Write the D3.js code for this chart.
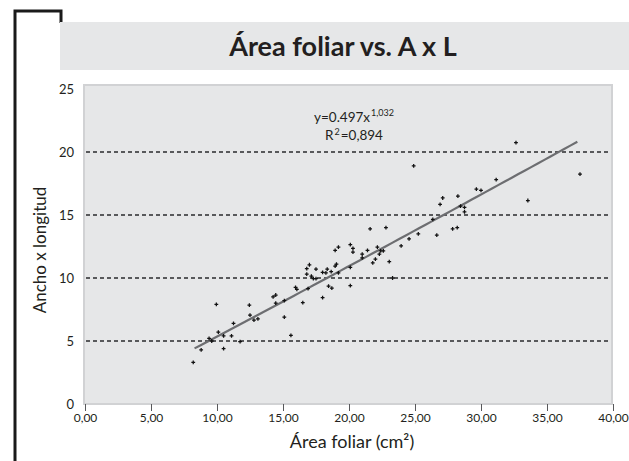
<!DOCTYPE html>
<html><head><meta charset="utf-8">
<script src="https://cdn.jsdelivr.net/npm/d3@7"></script>
<style>body{margin:0;background:#fff}svg{display:block}</style>
</head><body>
<svg id="c" width="629" height="461"></svg>
<script>
const chartTitle = "Área foliar vs. A x L";
const xTitle = "Área foliar (cm²)";
const yTitle = "Ancho x longitud";
const xTicks = [0,5,10,15,20,25,30,35,40];
const yTicks = [0,5,10,15,20,25];
const gridValues = [5,10,15,20];
const areaFoliar = [8.2,8.8,9.4,9.6,9.95,10.1,10.5,10.5,11.1,11.25,11.75,12.45,12.5,12.8,13.1,14.25,14.45,14.45,15.1,15.1,15.6,15.95,16.05,16.5,16.8,16.8,16.9,17.0,17.15,17.3,17.5,17.5,18.0,18.0,18.25,18.35,18.45,18.7,18.65,18.95,19.05,18.95,19.2,19.2,20.1,20.1,20.3,20.3,20.1,21.0,21.0,21.4,21.6,21.8,22.0,22.15,22.3,22.4,22.6,22.8,23.05,23.3,23.95,24.55,24.9,25.25,26.35,26.65,26.9,27.1,27.85,28.2,28.25,28.45,28.75,28.75,29.65,30.0,31.15,32.65,33.55,37.5];
const anchoLongitud = [3.3,4.3,5.2,5.0,7.9,5.7,5.4,4.4,5.4,6.4,4.95,7.85,7.05,6.65,6.75,8.5,8.65,8.0,8.2,6.9,5.45,9.25,9.1,8.05,10.3,10.75,9.15,11.05,10.15,9.95,10.7,9.95,10.45,8.45,10.4,10.7,9.35,9.2,10.5,10.95,11.1,12.2,12.45,10.4,10.85,12.65,12.35,12.05,9.4,11.9,11.6,12.2,13.9,11.2,11.5,12.45,11.9,12.15,12.15,14.0,11.3,10.0,12.55,13.1,18.9,13.5,14.65,13.4,15.85,16.35,13.9,14.0,16.5,15.7,15.6,15.25,17.05,16.95,17.8,20.75,16.15,18.25];
const trendCoef = 0.497, trendExp = 1.032;
const trendRange = [8.3, 37.4];
const eqParts = ["y=0.497x", "1,032"];
const r2Parts = ["R", "2", "=0,894"];

const svg = d3.select("#c");
const font = "Lato, 'Open Sans', sans-serif";
const ink = "#231f20";
const fmtX = v => d3.format(".2f")(v).replace(".", ",");

// frame
svg.append("path").attr("d","M15,461 L15,11 L61,11 L61,23")
  .attr("fill","none").attr("stroke","#1a1a1a").attr("stroke-width",3);
// title band
svg.append("rect").attr("x",60).attr("y",22).attr("width",569).attr("height",48).attr("fill","#e6e7e8");
svg.append("text").attr("x",343).attr("y",56).attr("text-anchor","middle")
  .attr("font-family",font).attr("font-weight","bold").attr("font-size",27).attr("fill",ink).text(chartTitle);

const x = d3.scaleLinear().domain([0,40]).range([85,613]);
const y = d3.scaleLinear().domain([0,25]).range([404,89]);

// plot area
svg.append("rect").attr("x",84).attr("y",85).attr("width",528).attr("height",319)
  .attr("fill","#e6e7e8").attr("stroke","#d1d2d4").attr("stroke-width",2);

// gridlines
svg.append("g").selectAll("line").data(gridValues).join("line")
  .attr("x1",86).attr("x2",611).attr("y1",d=>y(d)).attr("y2",d=>y(d))
  .attr("stroke","#58595b").attr("stroke-width",2).attr("stroke-dasharray","4,3");

// x axis
const xAxis = svg.append("g").attr("transform","translate(0,404)")
  .call(d3.axisBottom(x).tickValues(xTicks).tickFormat(fmtX).tickSize(7).tickPadding(2));
xAxis.select(".domain").remove();
xAxis.selectAll("line").attr("stroke","#58595b");
xAxis.selectAll("text").attr("font-family",font).attr("font-size",12).attr("fill",ink);

// y axis
const yAxis = svg.append("g").attr("transform","translate(76,0)")
  .call(d3.axisLeft(y).tickValues(yTicks).tickFormat(d3.format("d")).tickSize(0).tickPadding(2));
yAxis.select(".domain").remove();
yAxis.selectAll("text").attr("font-family",font).attr("font-size",13).attr("fill",ink);

// trend line
const tx = d3.range(trendRange[0], trendRange[1]+0.01, 0.5);
svg.append("path").datum(tx)
  .attr("d", d3.line().x(d=>x(d)).y(d=>y(trendCoef*Math.pow(d,trendExp))))
  .attr("fill","none").attr("stroke","#6d6e71").attr("stroke-width",2.2);

// points
const pts = areaFoliar.map((v,i)=>[v, anchoLongitud[i]]);
svg.append("g").selectAll("path").data(pts).join("path")
  .attr("transform", d=>`translate(${x(d[0])},${y(d[1])})`)
  .attr("d", d3.symbol(d3.symbolCross, 8))
  .attr("fill","#111");

// equation (separate text pieces placed side by side)
function inline(parts, sizes, dys, cx, baseY) {
  const g = svg.append("g");
  const nodes = parts.map((p,i) => g.append("text").attr("font-family",font)
    .attr("font-size",sizes[i]).attr("fill",ink).attr("y",baseY+dys[i]).text(p));
  const widths = nodes.map(n => n.node().getComputedTextLength());
  const total = d3.sum(widths) + (parts.length-1)*1;
  let cur = cx - total/2;
  nodes.forEach((n,i)=>{ n.attr("x",cur); cur += widths[i] + 1; });
}
inline(eqParts, [13.5,9], [0,-6], 354, 122);
inline(r2Parts, [13.5,9,13.5], [0,-5,0], 354, 140);

// axis titles
svg.append("text").attr("x",352).attr("y",448).attr("text-anchor","middle")
  .attr("font-family",font).attr("font-size",18).attr("fill",ink).text(xTitle);
svg.append("text").attr("transform","translate(46,250) rotate(-90)").attr("text-anchor","middle")
  .attr("font-family",font).attr("font-size",17).attr("fill",ink).text(yTitle);
</script>
</body></html>
